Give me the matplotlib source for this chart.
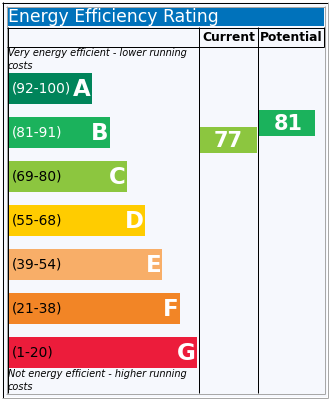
import matplotlib
matplotlib.use("Agg")
from matplotlib import pyplot as plt
from matplotlib.patches import Rectangle

# data
letters = ["A", "B", "C", "D", "E", "F", "G"]
ranges = ["(92-100)", "(81-91)", "(69-80)", "(55-68)", "(39-54)", "(21-38)", "(1-20)"]
band_colors = ["#00845a", "#1bb25c", "#8cc63f", "#ffcc00", "#f8ae68", "#f28526", "#ec1c3b"]
range_text_colors = ["white", "white", "black", "black", "black", "black", "black"]
current_score = 77
potential_score = 81
current_color = "#8cc63f"
potential_color = "#1bb25c"

title = "Energy Efficiency Rating"
col_labels = ["Current", "Potential"]
top_note = ["Very energy efficient - lower running", "costs"]
bottom_note = ["Not energy efficient - higher running", "costs"]

W, H = 331, 401
bg = "#f6f8fd"
blue = "#0072bb"
grey = "#a8a8a8"

fig = plt.figure(figsize=(W / 100, H / 100), dpi=100)
ax = fig.add_axes([0, 0, 1, 1])
ax.set_xlim(0, W)
ax.set_ylim(H, 0)
ax.axis("off")

lw = 0.72  # one pixel

def line(x0, y0, x1, y1, c):
    ax.plot([x0, x1], [y0, y1], color=c, lw=lw, solid_capstyle="butt")

# panel background + frame
ax.add_patch(Rectangle((2, 2), 325, 395, facecolor=bg, edgecolor="none"))
line(2.5, 2, 2.5, 397.5, "black")
line(2, 2.5, 327.5, 2.5, "black")
line(327.5, 2, 327.5, 398, grey)
line(2, 397.5, 328, 397.5, grey)
line(6.5, 6, 6.5, 394, grey)
line(6, 6.5, 324.5, 6.5, grey)
line(324.5, 6, 324.5, 394, grey)
line(6, 393.5, 325, 393.5, grey)

# title bar
ax.add_patch(Rectangle((7, 7), 317, 19, facecolor=blue, edgecolor="none"))
ax.text(7.5, 17, title, color="white", fontsize=12.4, va="center", ha="left")

# table grid
col1_x, col2_x, col3_x = 198.5, 257.5, 323.5
line(7.5, 27, 7.5, 393, "black")
line(7, 27.5, 324, 27.5, "black")
line(7, 46.5, 324, 46.5, "black")
line(col1_x, 27, col1_x, 393, "black")
line(col2_x, 27, col2_x, 393, "black")
line(col3_x, 27, col3_x, 47, "black")
ax.text((col1_x + col2_x) / 2 + 0.5, 37.5, col_labels[0], fontsize=8.8, fontweight="bold",
        ha="center", va="center")
ax.text((col2_x + col3_x) / 2 + 0.5, 37.5, col_labels[1], fontsize=8.8, fontweight="bold",
        ha="center", va="center")

# notes
note_kw = dict(fontsize=7.0, style="italic", ha="left", va="center")
ax.text(7.5, 53, top_note[0], **note_kw)
ax.text(7.5, 66, top_note[1], **note_kw)
ax.text(7.5, 374, bottom_note[0], **note_kw)
ax.text(7.5, 387, bottom_note[1], **note_kw)

# rating bands
n = len(letters)
centers = [88.5 + 44 * i for i in range(n)]
widths = [85 + 17.5 * i for i in range(n)]
ax.barh(centers, widths, left=7, height=31, color=band_colors, edgecolor="none")
for i in range(n):
    ax.text(12, centers[i] + 0.5, ranges[i], color=range_text_colors[i], fontsize=9.9,
            ha="left", va="center")
    ax.text(7 + widths[i] - 1, centers[i] + 0.5, letters[i], color="white", fontsize=16.5,
            fontweight="bold", ha="right", va="center")


def score_y(v):
    # linear position of a score arrow along the rating column
    return 39.4 + (100 - v) * 4.375


box_h = 26
cy = score_y(current_score)
ax.add_patch(Rectangle((199, cy - box_h / 2), 58, box_h, facecolor=current_color, edgecolor="none"))
ax.text(228, cy + 1, str(current_score), color="white", fontsize=15, fontweight="bold",
        ha="center", va="center")
py = score_y(potential_score)
ax.add_patch(Rectangle((258, py - box_h / 2), 57, box_h, facecolor=potential_color, edgecolor="none"))
ax.text(288.5, py + 1, str(potential_score), color="white", fontsize=15, fontweight="bold",
        ha="center", va="center")

fig.savefig("out.png", dpi=100, facecolor="white")
